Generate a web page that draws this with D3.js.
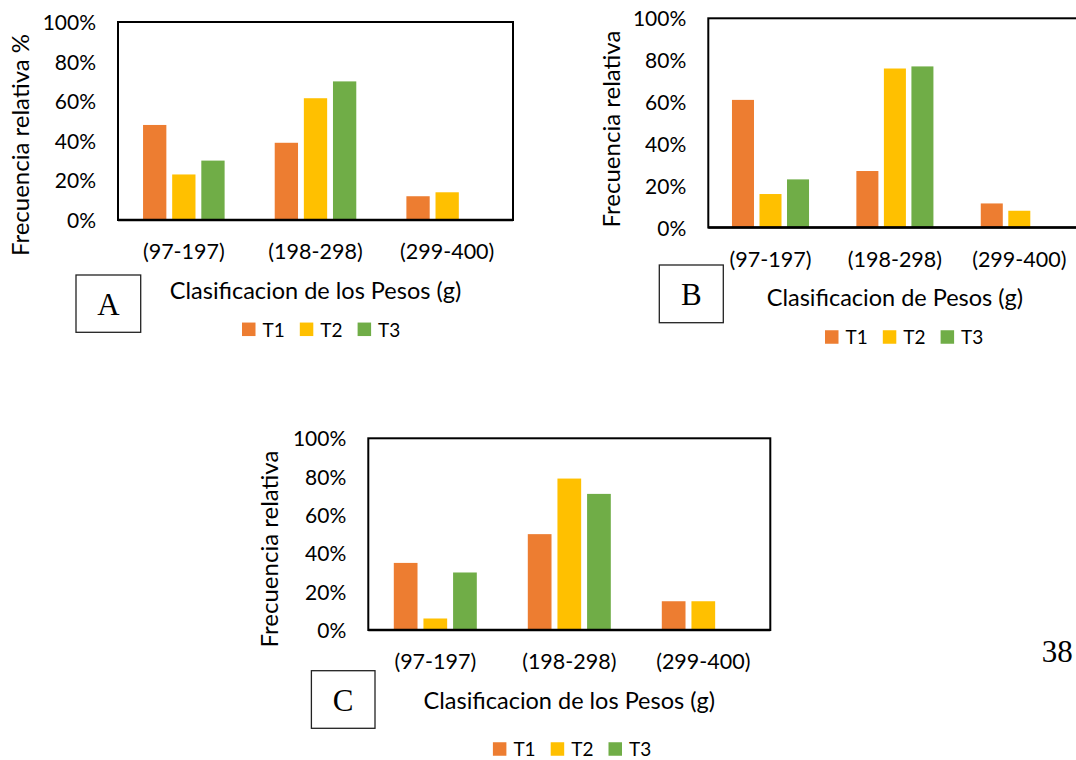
<!DOCTYPE html>
<html>
<head>
<meta charset="utf-8">
<script src="https://cdn.jsdelivr.net/npm/d3@7"></script>
<style>
  html, body { margin: 0; padding: 0; background: #fff; }
  svg { display: block; }
</style>
</head>
<body>
<svg id="chart" width="1076" height="760"></svg>
<script>
// ---------- DATA ----------
const categories = ["(97-197)", "(198-298)", "(299-400)"];
const seriesNames = ["T1", "T2", "T3"];
const yTickValues = [0, 0.2, 0.4, 0.6, 0.8, 1.0];

// Panel A
const A_T1 = [0.48, 0.39, 0.12];
const A_T2 = [0.23, 0.615, 0.14];
const A_T3 = [0.30, 0.70, 0];
// Panel B
const B_T1 = [0.61, 0.27, 0.115];
const B_T2 = [0.16, 0.76, 0.08];
const B_T3 = [0.23, 0.77, 0];
// Panel C
const C_T1 = [0.35, 0.50, 0.15];
const C_T2 = [0.06, 0.79, 0.15];
const C_T3 = [0.30, 0.71, 0];

const panelLetters = ["A", "B", "C"];
const yTitles = ["Frecuencia relativa %", "Frecuencia relativa", "Frecuencia relativa"];
const xTitles = ["Clasificacion de los Pesos (g)", "Clasificacion de Pesos (g)", "Clasificacion de los Pesos (g)"];
const pageNumber = "38";

// ---------- STYLE / LAYOUT ----------
const colors = ["#ED7D31", "#FFC000", "#70AD47"];
const FONT = "Lato, 'Open Sans', sans-serif";
const SERIF = "'Liberation Serif', 'Times New Roman', serif";

const layouts = [
  { left: 118, right: 513, top: 22, bottom: 220,
    yTitleX: 20, yTitleY: 145, xTickBase: 259, xTitleBase: 299,
    box: [76, 275, 64.7, 57.3], legendX: 242, legendY: 329.3 },
  { left: 708.3, right: 1081.5, top: 18.3, bottom: 227.5,
    yTitleX: 611, yTitleY: 129, xTickBase: 266.5, xTitleBase: 305.5,
    box: [659.3, 265, 64, 57.7], legendX: 825, legendY: 337 },
  { left: 368.3, right: 770.3, top: 438.3, bottom: 630,
    yTitleX: 269.6, yTitleY: 549, xTickBase: 669.3, xTitleBase: 709.3,
    box: [311.4, 670.7, 63.6, 57.6], legendX: 492.9, legendY: 749 }
];

const panelData = [
  [A_T1, A_T2, A_T3],
  [B_T1, B_T2, B_T3],
  [C_T1, C_T2, C_T3]
];

const svg = d3.select("#chart");

panelData.forEach((seriesVals, pi) => {
  const L = layouts[pi];
  const g = svg.append("g");

  const x0 = d3.scaleBand().domain(categories).range([L.left, L.right]).padding(0);
  const x1 = d3.scaleBand().domain(seriesNames).range([0, x0.bandwidth()])
    .paddingInner(0.2).paddingOuter(0.86);
  const y = d3.scaleLinear().domain([0, 1]).range([L.bottom, L.top]);

  // bars
  seriesNames.forEach((s, si) => {
    g.append("g").selectAll("rect")
      .data(categories.map((c, ci) => ({ c, v: seriesVals[si][ci] })))
      .join("rect")
      .attr("x", d => x0(d.c) + x1(s))
      .attr("y", d => y(d.v))
      .attr("width", x1.bandwidth())
      .attr("height", d => y(0) - y(d.v))
      .attr("fill", colors[si]);
  });

  // plot frame
  g.append("rect")
    .attr("x", L.left).attr("y", L.top)
    .attr("width", L.right - L.left).attr("height", L.bottom - L.top)
    .attr("fill", "none").attr("stroke", "#000").attr("stroke-width", 2);
  g.append("line")
    .attr("x1", L.left).attr("x2", L.right)
    .attr("y1", L.bottom).attr("y2", L.bottom)
    .attr("stroke", "#000").attr("stroke-width", 2.6);

  // y axis labels
  const yAxis = d3.axisLeft(y).tickValues(yTickValues)
    .tickFormat(d3.format(".0%")).tickSize(0).tickPadding(22);
  const ya = g.append("g").attr("transform", `translate(${L.left},0)`).call(yAxis);
  ya.select(".domain").remove();
  ya.selectAll("text")
    .attr("font-family", FONT).attr("font-size", 21).attr("fill", "#000")
    .attr("dy", "0.36em");

  // x axis labels
  const xAxis = d3.axisBottom(x0).tickSize(0).tickPadding(0);
  const xa = g.append("g").attr("transform", `translate(0,${L.xTickBase})`).call(xAxis);
  xa.select(".domain").remove();
  xa.selectAll("text")
    .attr("font-family", FONT).attr("font-size", 21.5).attr("fill", "#000")
    .attr("y", 0).attr("dy", 0);

  // y title
  g.append("text")
    .attr("transform", `translate(${L.yTitleX},${L.yTitleY}) rotate(-90)`)
    .attr("text-anchor", "middle").attr("dy", "0.36em")
    .attr("font-family", FONT).attr("font-size", 24).attr("fill", "#000")
    .text(yTitles[pi]);

  // x title
  g.append("text")
    .attr("x", (L.left + L.right) / 2).attr("y", L.xTitleBase)
    .attr("text-anchor", "middle")
    .attr("font-family", FONT).attr("font-size", 23.5).attr("fill", "#000")
    .text(xTitles[pi]);

  // letter box
  const [bx, by, bw, bh] = L.box;
  g.append("rect").attr("x", bx).attr("y", by).attr("width", bw).attr("height", bh)
    .attr("fill", "#fff").attr("stroke", "#222").attr("stroke-width", 1.3);
  g.append("text")
    .attr("x", bx + bw / 2).attr("y", by + bh / 2 + 11)
    .attr("text-anchor", "middle")
    .attr("font-family", SERIF).attr("font-size", 31).attr("fill", "#000")
    .text(panelLetters[pi]);

  // legend
  const lg = g.append("g");
  const sq = 13.5, step = 57.8;
  seriesNames.forEach((s, si) => {
    const lx = L.legendX + si * step;
    lg.append("rect").attr("x", lx).attr("y", L.legendY - sq / 2)
      .attr("width", sq).attr("height", sq).attr("fill", colors[si]);
    lg.append("text").attr("x", lx + 20.5).attr("y", L.legendY + sq / 2 + 0.5)
      .attr("font-family", FONT).attr("font-size", 19).attr("fill", "#000")
      .text(s);
  });
});

// page number
svg.append("text")
  .attr("x", 1041.7).attr("y", 661.7)
  .attr("font-family", SERIF).attr("font-size", 31).attr("fill", "#000")
  .text(pageNumber);
</script>
</body>
</html>
